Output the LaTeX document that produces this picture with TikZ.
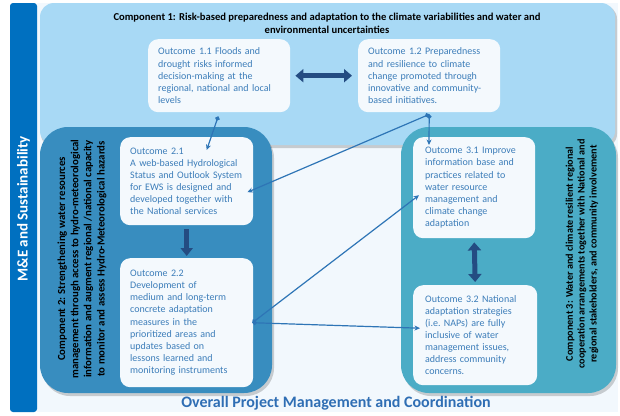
\documentclass[tikz,border=0pt]{standalone}
\usepackage{fontspec}
\setmainfont{Carlito}
\usetikzlibrary{arrows.meta,calc}
\definecolor{bgc}{RGB}{242,248,253}
\definecolor{cone}{RGB}{168,217,245}
\definecolor{ctwo}{RGB}{56,141,191}
\definecolor{cthree}{RGB}{75,172,198}
\definecolor{mebar}{RGB}{0,112,192}
\definecolor{oboxc}{RGB}{244,249,253}
\definecolor{otext}{RGB}{60,125,185}
\definecolor{connc}{RGB}{46,117,182}
\definecolor{navy}{RGB}{36,76,130}
\definecolor{bottomtxt}{RGB}{47,110,180}
\begin{document}
\begin{tikzpicture}[x=1pt,y=-1pt,
  outbox/.style={fill=oboxc, rounded corners=10pt, anchor=north west, inner xsep=10pt, inner ysep=0pt,
    align=left, text=otext, font=\fontsize{10}{12.1}\selectfont},
  comptext/.style={rotate=90, align=center, text=black, font=\bfseries\fontsize{10.8}{13.2}\selectfont},
  bigarrow/.style={navy, line width=5pt, -{Triangle[length=8pt,width=12pt]}},
  bigdouble/.style={navy, line width=5pt, {Triangle[length=8pt,width=13pt]}-{Triangle[length=8pt,width=13pt]}},
  link/.style={connc, line width=1.2pt, {Circle[length=4.5pt]}-{Stealth[length=5.5pt,width=5pt]}},
  shade/.style={fill=black, opacity=0.18}
]
\useasboundingbox (0,0) rectangle (620,415);
\fill[white] (0,0) rectangle (620,415);
\fill[bgc] (37,3) rectangle (618,412);
% M&E bar
\fill[mebar, rounded corners=3pt] (10,3) rectangle (37,412);
\node[rotate=90, text=white, font=\bfseries\fontsize{15}{17}\selectfont] (me) at (23.5,209) {M\&E and Sustainability};
% Component 1
\fill[shade, rounded corners=14pt] (41,5) rectangle (617,148);
\fill[cone, rounded corners=14pt] (40,3) rectangle (615,145);
\node[align=center, font=\bfseries\fontsize{10.6}{13}\selectfont] (c1t) at (327,23)
  {Component 1: Risk-based preparedness and adaptation to the climate variabilities and water and\\ environmental uncertainties};
% Component 2
\fill[shade, rounded corners=28pt] (42,130) rectangle (274,396);
\fill[ctwo, rounded corners=28pt] (40,127) rectangle (272,393);
\node[comptext] (c2t) at (82,259)
  {Component 2: Strengthening water resources\\ management through access to hydro-meteorological\\ information and augment regional /national capacity\\ to monitor and assess Hydro-Meteorological hazards};
% Component 3
\fill[shade, rounded corners=28pt] (403,130) rectangle (618,396);
\fill[cthree, rounded corners=28pt] (401,127) rectangle (616,393);
\node[comptext, font=\bfseries\fontsize{10.2}{11.8}\selectfont] (c3t) at (582,254)
  {Component 3: Water and climate resilient regional\\ cooperation arrangements together with National and\\ regional stakeholders, and community involvement};
% Outcome boxes
\node[outbox, text width=122pt, minimum height=73pt] (o11) at (148,39)
  {Outcome 1.1 Floods and\\ drought risks informed\\ decision-making at the\\ regional, national and local\\ levels};
\node[outbox, text width=122pt, minimum height=73pt] (o12) at (358,39)
  {Outcome 1.2 Preparedness\\ and resilience to climate\\ change promoted through\\ innovative and community-\\ based initiatives.};
\node[outbox, text width=113pt, minimum height=88pt] (o21) at (120,137)
  {Outcome 2.1\\ A web-based Hydrological\\ Status and Outlook System\\ for EWS is designed and\\ developed together with\\ the National services};
\node[outbox, text width=113pt, minimum height=129pt] (o22) at (120,258)
  {Outcome 2.2\\ Development of\\ medium and long-term\\ concrete adaptation\\ measures in the\\ prioritized areas and\\ updates based on\\ lessons learned and\\ monitoring instruments};
\node[outbox, inner xsep=12pt, text width=98pt, minimum height=101pt] (o31) at (413,137)
  {Outcome 3.1 Improve\\ information base and\\ practices related to\\ water resource\\ management and\\ climate change\\ adaptation};
\node[outbox, inner xsep=12pt, text width=100pt, minimum height=100pt] (o32) at (413,285)
  {Outcome 3.2 National\\ adaptation strategies\\ (i.e.\ NAPs) are fully\\ inclusive of water\\ management issues,\\ address community\\ concerns.};
% thick arrows
\draw[bigdouble, shorten <=5pt, shorten >=6pt] (o11.east) -- (o12.west);
\draw[bigarrow, shorten <=4pt, shorten >=2pt] (o21.south) -- (o22.north);
\draw[bigdouble, shorten <=4pt, shorten >=3pt] (o31.south) -- (o32.north);
% connectors
\draw[link] ([xshift=-1pt,yshift=-4pt]o11.south) -- ([xshift=20pt,yshift=-13pt]o21.north);
\draw[link] ([yshift=-2pt]o12.south) -- ([xshift=-6pt,yshift=-11pt]o21.east);
\draw[link] ([yshift=-2pt]o12.south) -- ([xshift=16pt,yshift=-8pt]o31.north west);
\draw[link] ([xshift=-1pt]o22.east) -- ([xshift=6pt,yshift=-7.5pt]o31.west);
\draw[link] ([xshift=-1pt]o22.east) -- ([xshift=7pt,yshift=7pt]o32.west);
% bottom text
\node[text=bottomtxt, font=\bfseries\fontsize{16}{18}\selectfont] (pm) at (336,403) {Overall Project Management and Coordination};
\end{tikzpicture}
\end{document}
